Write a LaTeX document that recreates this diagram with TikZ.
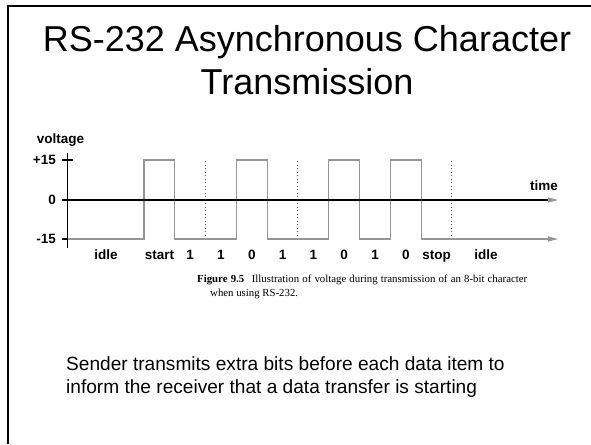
\documentclass[tikz,border=0pt]{standalone}
\usepackage{fontspec}
\setmainfont{Liberation Sans}
\newfontfamily\capfont{Liberation Serif}
\usetikzlibrary{arrows.meta}
\definecolor{wavec}{RGB}{150,150,150}
\definecolor{dotc}{RGB}{80,80,80}
\begin{document}
\begin{tikzpicture}[x=1pt,y=-1pt,
  titletext/.style={font=\fontsize{36}{43}\selectfont, anchor=base, inner sep=0pt},
  bodytext/.style={font=\fontsize{19.1}{23}\selectfont, anchor=base west, inner sep=0pt},
  lbl/.style={font=\fontsize{13.5}{16}\selectfont\bfseries, inner sep=0pt},
  captext/.style={font=\capfont\fontsize{10.8}{13}\selectfont, anchor=base west, inner sep=0pt},
  wave/.style={draw=wavec, line width=1.2pt},
  axisline/.style={draw=black, line width=1.1pt},
  guide/.style={draw=dotc, line width=0.9pt, dash pattern=on 0.9pt off 2.6pt},
  tipgray/.style={-{Triangle[length=10pt,width=5pt,color=wavec]}}]

\useasboundingbox (0,0) rectangle (591,444);
\fill[white] (0,0) rectangle (591,444);
% slide frame
\coordinate (fb) at (8,444);
\coordinate (fc) at (8,6);
\coordinate (fr) at (591,6);
\draw[line width=2.4pt] (fb) -- (fc) -- (fr);

% title
\node[titletext] (t1) at (307,52) {RS-232 Asynchronous Character};
\node[titletext] (t2) at (307,94) {Transmission};

% waveform
\coordinate (w0) at (67.5,239);
\coordinate (wend) at (558,239);
\draw[wave, tipgray] (w0) -- (144,239) -- (144,160) -- (174.8,160) -- (174.8,239)
  -- (236.4,239) -- (236.4,160) -- (267.2,160) -- (267.2,239)
  -- (328.8,239) -- (328.8,160) -- (359.6,160) -- (359.6,239)
  -- (390.4,239) -- (390.4,160) -- (421.2,160) -- (421.2,239) -- (wend);

% dotted guides
\foreach \gx in {205.6,297.9,451.5}{
  \draw[guide] (\gx,161) -- (\gx,236);
}

% axes
\coordinate (yb) at (67.5,248);
\coordinate (yt) at (67.5,153);
\draw[axisline] (yb) -- (yt);
\coordinate (tp1) at (62,160);
\coordinate (tp2) at (73,160);
\draw[axisline] (tp1) -- (tp2);
\coordinate (tm1) at (62,239);
\draw[axisline] (tm1) -- (w0);
\coordinate (z0) at (62,200);
\coordinate (z1) at (558,200);
\draw[axisline, tipgray] (z0) -- (z1);

% axis labels
\node[lbl, anchor=base] (volt) at (60.5,143) {voltage};
\node[lbl, anchor=east] (p15) at (56,159.5) {+15};
\node[lbl, anchor=east] (z) at (56,199.5) {0};
\node[lbl, anchor=east] (m15) at (56,238.5) {-15};
\node[lbl, anchor=base] (time) at (544,190.5) {time};

% bit labels
\node[lbl, anchor=base] (l0) at (106,259.5) {idle};
\node[lbl, anchor=base] (l1) at (159.6,259.5) {start};
\node[lbl, anchor=base] (l2) at (190.2,259.5) {1};
\node[lbl, anchor=base] (l3) at (221,259.5) {1};
\node[lbl, anchor=base] (l4) at (251.8,259.5) {0};
\node[lbl, anchor=base] (l5) at (282.6,259.5) {1};
\node[lbl, anchor=base] (l6) at (313.4,259.5) {1};
\node[lbl, anchor=base] (l7) at (344.2,259.5) {0};
\node[lbl, anchor=base] (l8) at (375,259.5) {1};
\node[lbl, anchor=base] (l9) at (405.8,259.5) {0};
\node[lbl, anchor=base] (l10) at (436.6,259.5) {stop};
\node[lbl, anchor=base] (l11) at (486,259.5) {idle};

% caption
\node[captext] (cap1) at (197,282) {\hbox to 330pt{\textbf{Figure 9.5}\hspace{0.7em}Illustration of voltage during transmission of an 8-bit character}};
\node[captext] (cap2) at (210,296) {when using RS-232.};

% body text
\node[bodytext] (b1) at (66,370) {Sender transmits extra bits before each data item to};
\node[bodytext] (b2) at (66,393) {inform the receiver that a data transfer is starting};
\end{tikzpicture}
\end{document}
